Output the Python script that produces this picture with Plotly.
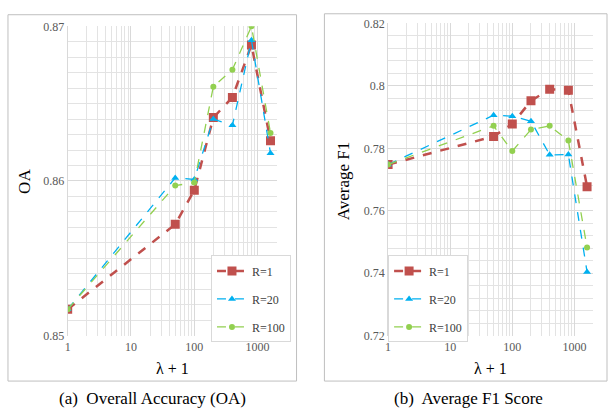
import plotly.graph_objects as go

lam = [1, 50, 100, 200, 400, 800, 1600]

oa_r1 = [0.8517, 0.8572, 0.8594, 0.8641, 0.8654, 0.8688, 0.8626]
oa_r20 = [0.8517, 0.8602, 0.8601, 0.8640, 0.8636, 0.8691, 0.8618]
oa_r100 = [0.8517, 0.8597, 0.8599, 0.8661, 0.8672, 0.8700, 0.8631]

f1_r1 = [0.7748, 0.7838, 0.7878, 0.7952, 0.7989, 0.7986, 0.7677]
f1_r20 = [0.7748, 0.7906, 0.7903, 0.7887, 0.7779, 0.7780, 0.7404]
f1_r100 = [0.7748, 0.7872, 0.7791, 0.7860, 0.7872, 0.7825, 0.7482]

names = ["R=1", "R=20", "R=100"]
colors = ["#C0504D", "#00B0F0", "#92D050"]
symbols = ["square", "triangle-up", "circle"]
widths = [2.5, 1.3, 1.3]
msizes = [9, 7, 6]

major_x = [1, 10, 100, 1000]
minor_x = [m * d for d in [1, 10, 100, 1000] for m in range(2, 10) if m * d <= 2000]

W, H = 609, 419
font = "Liberation Serif"
gray = "#595959"

fig = go.Figure()

for i, ys in enumerate([oa_r1, oa_r20, oa_r100]):
    fig.add_trace(go.Scatter(
        x=lam, y=ys, name=names[i], mode="lines+markers",
        line=dict(color=colors[i], width=widths[i], dash="dash"),
        marker=dict(symbol=symbols[i], size=msizes[i], color=colors[i]),
        xaxis="x", yaxis="y", legend="legend", legendgroup="a" + str(i)))

for i, ys in enumerate([f1_r1, f1_r20, f1_r100]):
    fig.add_trace(go.Scatter(
        x=lam, y=ys, name=names[i], mode="lines+markers",
        line=dict(color=colors[i], width=widths[i], dash="dash"),
        marker=dict(symbol=symbols[i], size=msizes[i], color=colors[i]),
        xaxis="x2", yaxis="y2", legend="legend2", legendgroup="b" + str(i)))

def xaxis(domain, anchor):
    return dict(
        type="log", domain=domain, anchor=anchor, range=[0, 3.301],
        tickvals=major_x, ticktext=[str(v) for v in major_x],
        showgrid=True, gridcolor="#d9d9d9", gridwidth=1,
        minor=dict(tickvals=minor_x, showgrid=True, gridcolor="#e3e3e3",
                   gridwidth=1, ticks=""),
        showline=False, zeroline=False, ticks="",
        tickfont=dict(family=font, size=12, color=gray), ticklabelstandoff=2)

def yaxis(domain, anchor, rng, dt, mdt, fmt):
    return dict(
        domain=domain, anchor=anchor, range=rng, dtick=dt, tick0=rng[0],
        showgrid=True, gridcolor="#d9d9d9", gridwidth=1,
        minor=dict(dtick=mdt, showgrid=True, gridcolor="#e3e3e3",
                   gridwidth=1, ticks=""),
        showline=True, linecolor="#d9d9d9", linewidth=1,
        zeroline=False, ticks="", tickformat=fmt,
        tickfont=dict(family=font, size=12, color=gray))

def ypos(py):
    return (H - py) / H

legend_style = dict(bgcolor="white", bordercolor="#d9d9d9", borderwidth=1,
                    itemwidth=30, tracegroupgap=9, xanchor="left", yanchor="top",
                    font=dict(family=font, size=12, color="#404040"))

def ann(text, px, py, size, angle=0):
    return dict(text=text, x=px / W, y=ypos(py), xref="paper", yref="paper",
                xanchor="center", yanchor="middle", textangle=angle,
                showarrow=False, font=dict(family=font, size=size, color="black"))

fig.update_layout(
    width=W, height=H, margin=dict(l=0, r=0, t=0, b=0),
    paper_bgcolor="white", plot_bgcolor="white",
    font=dict(family=font, color="black"),
    xaxis=xaxis([65 / W, 275 / W], "y"),
    yaxis=yaxis([ypos(340), ypos(20)], "x", [0.85, 0.87], 0.01, 0.001, ".2~f"),
    xaxis2=xaxis([387 / W, 593 / W], "y2"),
    yaxis2=yaxis([ypos(340), ypos(17)], "x2", [0.72, 0.82], 0.02, 0.004, ".2~f"),
    legend=dict(x=209 / W, y=ypos(257), **legend_style),
    legend2=dict(x=387 / W, y=ypos(257), **legend_style),
    shapes=[
        dict(type="rect", xref="paper", yref="paper",
             x0=5 / W, x1=295 / W, y0=ypos(387), y1=ypos(8),
             line=dict(color="#bfbfbf", width=1), layer="below"),
        dict(type="rect", xref="paper", yref="paper",
             x0=323 / W, x1=607 / W, y0=ypos(387), y1=ypos(7),
             line=dict(color="#bfbfbf", width=1), layer="below"),
    ],
    annotations=[
        ann("OA", 22, 180, 17, -90),
        ann("λ + 1", 170, 374, 16),
        ann("Average F1", 343, 180, 17, -90),
        ann("λ + 1", 490, 374, 16),
        ann("(a)  Overall Accuracy (OA)", 150, 405, 17),
        ann("(b)  Average F1 Score", 468, 405, 17),
    ],
)

fig.write_html("out.html")
